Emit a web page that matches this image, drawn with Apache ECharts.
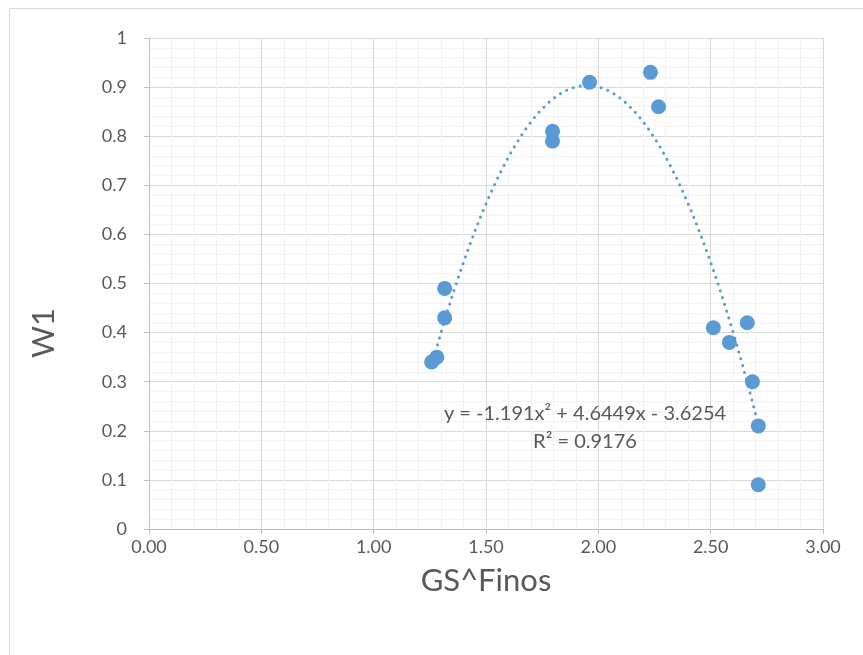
<!DOCTYPE html>
<html>
<head>
<meta charset="utf-8">
<script src="https://cdn.jsdelivr.net/npm/echarts@6/dist/echarts.min.js"></script>
<style>html,body{margin:0;padding:0;background:#fff}#c{width:863px;height:655px}</style>
</head>
<body>
<div id="c"></div>
<script>
const gsFinos = [1.258, 1.281, 1.316, 1.316, 1.796, 1.796, 1.961, 2.232, 2.268, 2.512, 2.583, 2.663, 2.686, 2.712, 2.712];
const w1      = [0.34, 0.35, 0.49, 0.43, 0.81, 0.79, 0.91, 0.93, 0.86, 0.41, 0.38, 0.42, 0.30, 0.21, 0.09];
const trendCoef = [-1.191, 4.6449, -3.6254];
const trendRange = [1.258, 2.712];
const eqText = ['y = -1.191x² + 4.6449x - 3.6254', 'R² = 0.9176'];
const xTitle = 'GS^Finos';
const yTitle = 'W1';

const trend = [];
const steps = 80;
for (let i = 0; i <= steps; i++) {
  const x = trendRange[0] + (trendRange[1] - trendRange[0]) * i / steps;
  trend.push([x, trendCoef[0] * x * x + trendCoef[1] * x + trendCoef[2]]);
}
const pts = gsFinos.map((x, i) => [x, w1[i]]);

const FONT = 'Lato, "Open Sans", sans-serif';
const chart = echarts.init(document.getElementById('c'));
chart.setOption({
  animation: false,
  grid: { left: 149, right: 40, top: 38, bottom: 126 },
  xAxis: {
    type: 'value', min: 0, max: 3, interval: 0.5,
    name: xTitle, nameLocation: 'middle', nameGap: 36,
    nameTextStyle: { fontFamily: FONT, fontSize: 31, color: '#595959' },
    axisLine: { show: true, lineStyle: { color: '#BFBFBF', width: 1 } },
    axisTick: { show: true, length: 5, lineStyle: { color: '#BFBFBF' } },
    axisLabel: { formatter: v => v.toFixed(2), fontFamily: FONT, fontSize: 18, color: '#595959', margin: 9 },
    splitLine: { show: true, lineStyle: { color: '#D9D9D9', width: 1 } },
    minorTick: { show: false, splitNumber: 5 },
    minorSplitLine: { show: true, lineStyle: { color: '#F2F2F2', width: 1 } }
  },
  yAxis: {
    type: 'value', min: 0, max: 1, interval: 0.1,
    axisLine: { show: true, lineStyle: { color: '#BFBFBF', width: 1 } },
    axisTick: { show: true, length: 5, lineStyle: { color: '#BFBFBF' } },
    axisLabel: { formatter: v => String(Math.round(v * 10) / 10), fontFamily: FONT, fontSize: 18, color: '#595959', margin: 22 },
    splitLine: { show: true, lineStyle: { color: '#D9D9D9', width: 1 } },
    minorTick: { show: false, splitNumber: 5 },
    minorSplitLine: { show: true, lineStyle: { color: '#F2F2F2', width: 1 } }
  },
  graphic: [
    { type: 'rect', shape: { x: 9.5, y: 8.5, width: 900, height: 700 }, style: { fill: 'none', stroke: '#D9D9D9', lineWidth: 1 }, z: -1 },
    { type: 'text', x: 44, y: 333, rotation: Math.PI / 2, style: { text: yTitle, font: '31px ' + FONT, fill: '#595959', textAlign: 'center', textVerticalAlign: 'middle' }, z: 10 },
    { type: 'text', x: 585, y: 414, style: { text: eqText[0], font: '20px ' + FONT, fill: '#595959', textAlign: 'center', textVerticalAlign: 'middle' }, z: 10 },
    { type: 'text', x: 585, y: 442, style: { text: eqText[1], font: '20px ' + FONT, fill: '#595959', textAlign: 'center', textVerticalAlign: 'middle' }, z: 10 }
  ],
  series: [
    {
      type: 'scatter', data: pts, symbol: 'circle', symbolSize: 15,
      itemStyle: { color: '#5B9BD5', opacity: 1 }, z: 3
    },
    {
      type: 'line', data: trend, showSymbol: false, smooth: false,
      lineStyle: { color: '#5B9BD5', width: 3, type: [0.1, 7], cap: 'round' }, z: 4
    }
  ]
});
</script>
</body>
</html>
